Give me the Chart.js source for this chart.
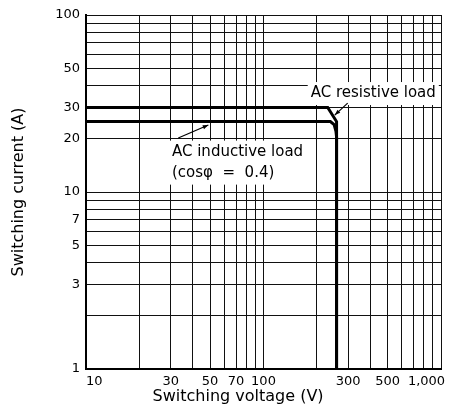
<!DOCTYPE html>
<html>
<head>
<meta charset="utf-8">
<script src="https://cdn.jsdelivr.net/npm/chart.js@4.4.1/dist/chart.umd.min.js"></script>
<style>
    html, body { margin: 0; padding: 0; background: #fff; }
    #wrap { width: 456px; height: 416px; }
</style>
</head>
<body>
<div id="wrap"><canvas id="chart"></canvas></div>
<script>
// grid lines (log decades) and labelled ticks
const voltGrid = [10, 20, 30, 40, 50, 60, 70, 80, 90, 100, 200, 300, 400, 500, 600, 700, 800, 900, 1000];
const currGrid = [1, 2, 3, 4, 5, 6, 7, 8, 9, 10, 20, 30, 40, 50, 60, 70, 80, 90, 100];
const voltLabels = { 10: "    10", 30: "30", 50: "50", 70: "70", 100: "100", 300: "300", 500: "500", 1000: "1,000       " };
const currLabels = { 1: "1", 3: "3", 5: "5", 7: "7", 10: "10", 20: "20", 30: "30", 50: "50", 100: "100" };

// AC resistive load
const resistiveV = [10, 230, 258, 258];
const resistiveA = [30, 30, 25, 1];
// AC inductive load (cos phi = 0.4)
const inductiveV = [10, 238, 250, 256, 258, 258];
const inductiveA = [25, 25, 24, 22, 20.5, 1];

const toPoints = (xs, ys) => xs.map((x, i) => ({ x: x, y: ys[i] }));

const FONT = "'DejaVu Sans', sans-serif";

// text boxes and leader lines, placed in data units
const notes = [
    { lines: ["AC resistive load"], x: 935, y: 36, align: "right" },
    { lines: ["AC inductive load", "(cos\u03c6  =  0.4)"], x: 30.5, y: 16.8, align: "left" },
];
const leaders = [
    { from: [298, 31.8], to: [252, 27.2] },
    { from: [33.1, 20.2], to: [48.9, 23.9] },
];

const notesPlugin = {
    id: "notes",
    afterDatasetsDraw(chart) {
        const ctx = chart.ctx;
        const xs = chart.scales.x, ys = chart.scales.y;
        ctx.save();
        ctx.font = "15px " + FONT;
        ctx.textBaseline = "middle";
        notes.forEach((n) => {
            const px = xs.getPixelForValue(n.x);
            const py = ys.getPixelForValue(n.y);
            const w = Math.max(...n.lines.map((l) => ctx.measureText(l).width));
            const lh = 21;
            const left = n.align === "right" ? px - w : px;
            ctx.fillStyle = "#fff";
            ctx.fillRect(left - 3, py - lh / 2 - 1, w + 6, lh * n.lines.length + 2);
            ctx.fillStyle = "#000";
            ctx.textAlign = "left";
            n.lines.forEach((l, i) => ctx.fillText(l, left, py + i * lh));
        });
        ctx.strokeStyle = "#000";
        ctx.fillStyle = "#000";
        ctx.lineWidth = 1.2;
        leaders.forEach((d) => {
            const x1 = xs.getPixelForValue(d.from[0]), y1 = ys.getPixelForValue(d.from[1]);
            const x2 = xs.getPixelForValue(d.to[0]), y2 = ys.getPixelForValue(d.to[1]);
            ctx.beginPath();
            ctx.moveTo(x1, y1);
            ctx.lineTo(x2, y2);
            ctx.stroke();
            const a = Math.atan2(y2 - y1, x2 - x1);
            ctx.beginPath();
            ctx.moveTo(x2, y2);
            ctx.lineTo(x2 - 6 * Math.cos(a - 0.35), y2 - 6 * Math.sin(a - 0.35));
            ctx.lineTo(x2 - 6 * Math.cos(a + 0.35), y2 - 6 * Math.sin(a + 0.35));
            ctx.closePath();
            ctx.fill();
        });
        ctx.restore();
    },
};

const config = {
    type: "line",
    data: {
        datasets: [
            {
                label: "AC resistive load",
                data: toPoints(resistiveV, resistiveA),
                borderColor: "#000",
                borderWidth: 3,
                pointRadius: 0,
                fill: false,
                tension: 0,
            },
            {
                label: "AC inductive load",
                data: toPoints(inductiveV, inductiveA),
                borderColor: "#000",
                borderWidth: 3,
                pointRadius: 0,
                fill: false,
                tension: 0,
            },
        ],
    },
    options: {
        responsive: true,
        maintainAspectRatio: false,
        animation: false,
        layout: { padding: { left: 0, top: 15, right: 15, bottom: 0 } },
        plugins: {
            legend: { display: false },
            tooltip: { enabled: false },
        },
        scales: {
            x: {
                type: "logarithmic",
                min: 10,
                max: 1000,
                afterBuildTicks: (s) => { s.ticks = voltGrid.map((v) => ({ value: v })); },
                afterFit: (s) => { s.height = 47; s.paddingLeft = 0; s.paddingRight = 0; },
                ticks: {
                    autoSkip: false,
                    maxRotation: 0,
                    padding: 5,
                    color: "#000",
                    font: { family: FONT, size: 13 },
                    callback: (v) => voltLabels[v] || "",
                },
                grid: { color: "#111", lineWidth: 1, drawTicks: false },
                border: { display: true, color: "#000", width: 2 },
                title: {
                    display: true,
                    text: "Switching voltage (V)          ",
                    color: "#000",
                    font: { family: FONT, size: 16 },
                    padding: { top: 0, bottom: 10 },
                },
            },
            y: {
                type: "logarithmic",
                min: 1,
                max: 100,
                afterBuildTicks: (s) => { s.ticks = currGrid.map((v) => ({ value: v })); },
                afterFit: (s) => { s.width = 86; s.paddingTop = 0; s.paddingBottom = 0; },
                ticks: {
                    autoSkip: false,
                    padding: 6,
                    color: "#000",
                    font: { family: FONT, size: 13 },
                    callback: (v) => currLabels[v] || "",
                },
                grid: { color: "#111", lineWidth: 1, drawTicks: false },
                border: { display: true, color: "#000", width: 2 },
                title: {
                    display: true,
                    text: "Switching current (A)",
                    color: "#000",
                    font: { family: FONT, size: 16 },
                    padding: { top: 9, bottom: 0 },
                },
            },
        },
    },
    plugins: [notesPlugin],
};

new Chart(document.getElementById("chart"), config);
</script>
</body>
</html>
